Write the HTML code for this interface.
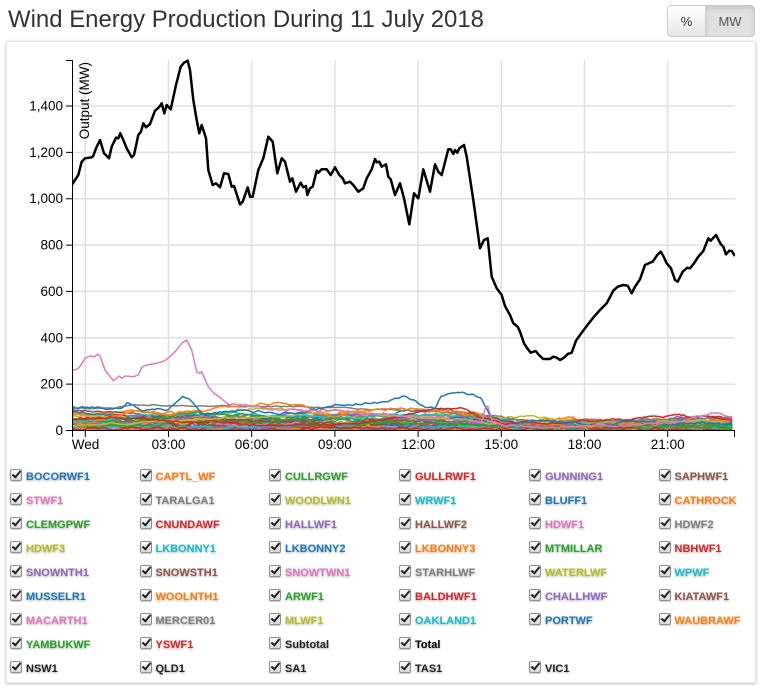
<!DOCTYPE html>
<html>
<head>
<meta charset="utf-8">
<style>
html,body{margin:0;padding:0;background:#fff;}
body{width:765px;height:686px;position:relative;overflow:hidden;font-family:"Liberation Sans",Arial,sans-serif;}
#panel{position:absolute;left:6px;top:41px;width:748px;height:640px;border:1px solid #e6e6e6;box-shadow:0 1px 3px rgba(0,0,0,0.25);background:#fff;}
.btn{position:absolute;top:5px;height:32px;line-height:32px;text-align:center;font-size:13px;color:#333;border:1px solid #ccc;box-sizing:border-box;}
#b1{left:667px;width:39px;border-radius:4px 0 0 4px;background:linear-gradient(#fff,#e6e6e6);}
#b2{left:705px;width:50px;border-radius:0 4px 4px 0;background:#e0e0e0;box-shadow:inset 0 3px 5px rgba(0,0,0,0.1);color:#555;}
svg{position:absolute;left:0;top:0;}
.it{position:absolute;height:13px;line-height:13px;font-size:11px;font-weight:bold;white-space:nowrap;}
.it span{position:absolute;left:16px;top:0;text-shadow:0 1px 2px rgba(0,0,0,0.35);}
.cb{position:absolute;left:0;top:-2px;width:10px;height:10px;border:1px solid #8f8f8f;border-radius:2px;background:linear-gradient(#fdfdfd,#d6d6d6);box-shadow:0 1px 1px rgba(0,0,0,0.2);}
.cb:after{content:"";position:absolute;left:3px;top:-1px;width:3px;height:7px;border:solid #222;border-width:0 2px 2px 0;transform:rotate(40deg);}
</style>
</head>
<body>
<div id="panel"></div>
<div class="btn" id="b1">%</div>
<div class="btn" id="b2">MW</div>

<svg width="765" height="686" viewBox="0 0 765 686" xmlns="http://www.w3.org/2000/svg">
<defs><clipPath id="clip"><rect x="72" y="55" width="663" height="376"/></clipPath></defs>
<text x="8" y="27" font-family="Liberation Sans, Arial, sans-serif" font-size="24" fill="#333" textLength="476" lengthAdjust="spacingAndGlyphs">Wind Energy Production During 11 July 2018</text>

<g stroke="#e0e0e0" stroke-width="1.5">
<line x1="85.3" y1="60" x2="85.3" y2="430.5"/>
<line x1="168.5" y1="60" x2="168.5" y2="430.5"/>
<line x1="251.7" y1="60" x2="251.7" y2="430.5"/>
<line x1="334.9" y1="60" x2="334.9" y2="430.5"/>
<line x1="418.1" y1="60" x2="418.1" y2="430.5"/>
<line x1="501.3" y1="60" x2="501.3" y2="430.5"/>
<line x1="584.5" y1="60" x2="584.5" y2="430.5"/>
<line x1="667.7" y1="60" x2="667.7" y2="430.5"/>
<line x1="72" y1="384.1" x2="735" y2="384.1"/>
<line x1="72" y1="337.8" x2="735" y2="337.8"/>
<line x1="72" y1="291.4" x2="735" y2="291.4"/>
<line x1="72" y1="245.1" x2="735" y2="245.1"/>
<line x1="72" y1="198.7" x2="735" y2="198.7"/>
<line x1="72" y1="152.4" x2="735" y2="152.4"/>
<line x1="72" y1="106.0" x2="735" y2="106.0"/>
</g>

<g id="lines" clip-path="url(#clip)" stroke-linejoin="round"></g>

<g clip-path="url(#clip)" fill="none" stroke-linejoin="round">
<polyline stroke="#e377c2" stroke-width="1.5" points="71.7,370.7 76.7,369.3 79.3,367.3 85,358.3 90,356 95,356.7 97.3,354.3 100,356 105,370 113.3,380.7 119.3,376 121.7,378.3 125,376 133.3,376.7 138.3,375 141.7,367.3 146.7,365 156.7,363.3 165,360.7 170,356.7 176,350.7 181.7,343.3 186.7,340 191.7,350 196.7,371.7 200,373.3 201.7,371.7 208.3,386.7 213.3,392.7 220,397.3 225,401.7 230,405 233.3,403.3"/>
<polyline stroke="#000" stroke-width="2.5" points="71.7,185 78.3,175 81.7,161.7 85,158.3 91.7,157.3 93.3,156 96,148.3 100,140 104,153.3 109,158.3 111.7,146.7 116,137.7 118.3,138.3 120.3,133.3 123.3,140 126.7,148.3 131.7,157.3 134,155 138.3,135 141,131.7 143.3,123.3 146,127.3 150,124 155,110.7 159,107.3 161.7,103.3 164.3,113.3 166.7,105 170.7,109.3 176,85 180.7,66.7 184,62.7 187.7,60.7 190,70 193.3,100 196.7,120 199.3,133.3 201.7,125 206,138.3 208.3,170 212.7,185 216,183.3 220,187.3 224,173.3 228.3,174 231.7,186.7 234,186 240,204.3 242.7,201.7 247.7,187.3 250,196.7 252.7,196.7 258.3,170 263.3,158.3 268.3,136.7 272.7,141.7 277.3,173.3 281.7,158.3 285,161.7 290,181.7 292.3,178.3 296,191.7 300.7,182.7 303.3,187.3 306,186 307.3,195 310,188.3 312.7,186.7 316.7,170.7 318.3,172.7 321.7,169.3 326.7,169.3 330.7,175 335,167.3 339.3,175 342.7,178.3 345,183.3 350,181.7 353.3,185 358.3,191.7 363.3,188.3 366.7,178.3 371.7,169.3 375,159 376.7,162.3 379.3,161.7 381.7,166.7 386,164.3 388.3,176.7 390.7,179.3 395,195 400,183.3 404,198.3 409.3,224.3 414,193.3 418.3,198.3 423.3,169.3 430,191.7 435,164.3 438.3,171.7 441.7,175 448.3,149.3 450.7,149.3 453.3,154 455,150 457.3,152.7 459.3,148.3 464,145 466.7,156.7 473.3,200 480,248.3 484,240 487.7,238.3 491.7,276.7 496.7,288.3 501.7,295 505,306 510,315 513.3,323.3 517.7,326.7 520,331.7 524,343.3 527.3,348.3 530.7,352.7 535.7,351 539,355 543.3,359 550,359 553.3,356.7 556.7,357.7 560,360 564,357.7 567.7,354 571.7,352.7 576,340.7 580,335 586.7,326 594,316.7 600,310 606.7,303.3 613.3,290.7 617.7,286.7 623.3,285 627.7,285.7 631.7,293.3 635,286.7 640,279.3 645,265 650,262.7 652.7,261.7 657.3,255 660.7,251.7 663.3,256 666.7,263.3 671,268.3 675,280 677.7,281.7 682.7,271.7 687.3,267.7 690,268.3 694,263.3 698.3,256.7 703.3,251 708.3,238.3 710.7,240.7 716,235 720.7,244 723.3,246.7 726,254.3 729.3,250.7 731.7,251 735,256"/>
</g>

<!-- axes -->
<g stroke="#000" stroke-width="1" fill="none">
<path d="M66,60.5H72.5V430.5H734.5V437"/>
<path d="M66,430.5H72 M66,384.1H72 M66,337.8H72 M66,291.4H72 M66,245.1H72 M66,198.7H72 M66,152.4H72 M66,106H72"/>
<path d="M72.5,430.5V437 M85.3,430.5V437 M168.5,430.5V437 M251.7,430.5V437 M334.9,430.5V437 M418.1,430.5V437 M501.3,430.5V437 M584.5,430.5V437 M667.7,430.5V437"/>
</g>
<g font-family="Liberation Sans, Arial, sans-serif" font-size="13.5" fill="#000" text-anchor="end">
<text x="63" y="435">0</text>
<text x="63" y="388.6">200</text>
<text x="63" y="342.3">400</text>
<text x="63" y="295.9">600</text>
<text x="63" y="249.6">800</text>
<text x="63" y="203.2">1,000</text>
<text x="63" y="156.9">1,200</text>
<text x="63" y="110.5">1,400</text>
</g>
<g font-family="Liberation Sans, Arial, sans-serif" font-size="13.5" fill="#000" text-anchor="middle">
<text x="85.5" y="449">Wed</text>
<text x="168.5" y="449">03:00</text>
<text x="251.7" y="449">06:00</text>
<text x="334.9" y="449">09:00</text>
<text x="418.1" y="449">12:00</text>
<text x="501.3" y="449">15:00</text>
<text x="584.5" y="449">18:00</text>
<text x="667.7" y="449">21:00</text>
</g>
<text transform="translate(89,62) rotate(-90)" text-anchor="end" font-family="Liberation Sans, Arial, sans-serif" font-size="13.5" fill="#000">Output (MW)</text>
</svg>

<!-- legend -->
<div class="it" style="left:10px;top:470.5px;color:#1f77b4"><i class="cb"></i><span>BOCORWF1</span></div>
<div class="it" style="left:139.5px;top:470.5px;color:#ff7f0e"><i class="cb"></i><span>CAPTL_WF</span></div>
<div class="it" style="left:269px;top:470.5px;color:#2ca02c"><i class="cb"></i><span>CULLRGWF</span></div>
<div class="it" style="left:399px;top:470.5px;color:#d62728"><i class="cb"></i><span>GULLRWF1</span></div>
<div class="it" style="left:529px;top:470.5px;color:#9467bd"><i class="cb"></i><span>GUNNING1</span></div>
<div class="it" style="left:658.5px;top:470.5px;color:#8c564b"><i class="cb"></i><span>SAPHWF1</span></div>

<div class="it" style="left:10px;top:494.5px;color:#e377c2"><i class="cb"></i><span>STWF1</span></div>
<div class="it" style="left:139.5px;top:494.5px;color:#7f7f7f"><i class="cb"></i><span>TARALGA1</span></div>
<div class="it" style="left:269px;top:494.5px;color:#bcbd22"><i class="cb"></i><span>WOODLWN1</span></div>
<div class="it" style="left:399px;top:494.5px;color:#17becf"><i class="cb"></i><span>WRWF1</span></div>
<div class="it" style="left:529px;top:494.5px;color:#1f77b4"><i class="cb"></i><span>BLUFF1</span></div>
<div class="it" style="left:658.5px;top:494.5px;color:#ff7f0e"><i class="cb"></i><span>CATHROCK</span></div>

<div class="it" style="left:10px;top:518.5px;color:#2ca02c"><i class="cb"></i><span>CLEMGPWF</span></div>
<div class="it" style="left:139.5px;top:518.5px;color:#d62728"><i class="cb"></i><span>CNUNDAWF</span></div>
<div class="it" style="left:269px;top:518.5px;color:#9467bd"><i class="cb"></i><span>HALLWF1</span></div>
<div class="it" style="left:399px;top:518.5px;color:#8c564b"><i class="cb"></i><span>HALLWF2</span></div>
<div class="it" style="left:529px;top:518.5px;color:#e377c2"><i class="cb"></i><span>HDWF1</span></div>
<div class="it" style="left:658.5px;top:518.5px;color:#7f7f7f"><i class="cb"></i><span>HDWF2</span></div>

<div class="it" style="left:10px;top:542.5px;color:#bcbd22"><i class="cb"></i><span>HDWF3</span></div>
<div class="it" style="left:139.5px;top:542.5px;color:#17becf"><i class="cb"></i><span>LKBONNY1</span></div>
<div class="it" style="left:269px;top:542.5px;color:#1f77b4"><i class="cb"></i><span>LKBONNY2</span></div>
<div class="it" style="left:399px;top:542.5px;color:#ff7f0e"><i class="cb"></i><span>LKBONNY3</span></div>
<div class="it" style="left:529px;top:542.5px;color:#2ca02c"><i class="cb"></i><span>MTMILLAR</span></div>
<div class="it" style="left:658.5px;top:542.5px;color:#d62728"><i class="cb"></i><span>NBHWF1</span></div>

<div class="it" style="left:10px;top:566.5px;color:#9467bd"><i class="cb"></i><span>SNOWNTH1</span></div>
<div class="it" style="left:139.5px;top:566.5px;color:#8c564b"><i class="cb"></i><span>SNOWSTH1</span></div>
<div class="it" style="left:269px;top:566.5px;color:#e377c2"><i class="cb"></i><span>SNOWTWN1</span></div>
<div class="it" style="left:399px;top:566.5px;color:#7f7f7f"><i class="cb"></i><span>STARHLWF</span></div>
<div class="it" style="left:529px;top:566.5px;color:#bcbd22"><i class="cb"></i><span>WATERLWF</span></div>
<div class="it" style="left:658.5px;top:566.5px;color:#17becf"><i class="cb"></i><span>WPWF</span></div>

<div class="it" style="left:10px;top:590.5px;color:#1f77b4"><i class="cb"></i><span>MUSSELR1</span></div>
<div class="it" style="left:139.5px;top:590.5px;color:#ff7f0e"><i class="cb"></i><span>WOOLNTH1</span></div>
<div class="it" style="left:269px;top:590.5px;color:#2ca02c"><i class="cb"></i><span>ARWF1</span></div>
<div class="it" style="left:399px;top:590.5px;color:#d62728"><i class="cb"></i><span>BALDHWF1</span></div>
<div class="it" style="left:529px;top:590.5px;color:#9467bd"><i class="cb"></i><span>CHALLHWF</span></div>
<div class="it" style="left:658.5px;top:590.5px;color:#8c564b"><i class="cb"></i><span>KIATAWF1</span></div>

<div class="it" style="left:10px;top:614.5px;color:#e377c2"><i class="cb"></i><span>MACARTH1</span></div>
<div class="it" style="left:139.5px;top:614.5px;color:#7f7f7f"><i class="cb"></i><span>MERCER01</span></div>
<div class="it" style="left:269px;top:614.5px;color:#bcbd22"><i class="cb"></i><span>MLWF1</span></div>
<div class="it" style="left:399px;top:614.5px;color:#17becf"><i class="cb"></i><span>OAKLAND1</span></div>
<div class="it" style="left:529px;top:614.5px;color:#1f77b4"><i class="cb"></i><span>PORTWF</span></div>
<div class="it" style="left:658.5px;top:614.5px;color:#ff7f0e"><i class="cb"></i><span>WAUBRAWF</span></div>

<div class="it" style="left:10px;top:638.5px;color:#2ca02c"><i class="cb"></i><span>YAMBUKWF</span></div>
<div class="it" style="left:139.5px;top:638.5px;color:#d62728"><i class="cb"></i><span>YSWF1</span></div>
<div class="it" style="left:269px;top:638.5px;color:#222"><i class="cb"></i><span>Subtotal</span></div>
<div class="it" style="left:399px;top:638.5px;color:#000"><i class="cb"></i><span>Total</span></div>

<div class="it" style="left:10px;top:662.5px;color:#222"><i class="cb"></i><span>NSW1</span></div>
<div class="it" style="left:139.5px;top:662.5px;color:#222"><i class="cb"></i><span>QLD1</span></div>
<div class="it" style="left:269px;top:662.5px;color:#222"><i class="cb"></i><span>SA1</span></div>
<div class="it" style="left:399px;top:662.5px;color:#222"><i class="cb"></i><span>TAS1</span></div>
<div class="it" style="left:529px;top:662.5px;color:#222"><i class="cb"></i><span>VIC1</span></div>

<script>
(function(){
var NS="http://www.w3.org/2000/svg";
var g=document.getElementById('lines');
var pal=['#1f77b4','#ff7f0e','#2ca02c','#d62728','#9467bd','#8c564b','#e377c2','#7f7f7f','#bcbd22','#17becf'];
var seed=12345;
function r(){seed=(seed*1664525+1013904223)>>>0;return seed/4294967296;}
function X(h){return 85.3+h*27.73;}
function Y(v){return 430.5-v*0.2318;}
function interp(a,h){for(var i=0;i<a.length-1;i++){if(h<=a[i+1][0]){var t=(h-a[i][0])/(a[i+1][0]-a[i][0]);return a[i][1]+t*(a[i+1][1]-a[i][1]);}}return a[a.length-1][1];}
function add(a,noise,col,h0,w){
  if(h0==null)h0=-0.5;
  var n=0,p=[];
  for(var h=h0;h<=23.41;h+=1/12){
    n=n*0.8+(r()-0.5)*noise;
    var v=Math.max(0,interp(a,h)+n);
    p.push(X(h).toFixed(1)+','+Y(v).toFixed(1));
  }
  var e=document.createElementNS(NS,'polyline');
  e.setAttribute('points',p.join(' '));
  e.setAttribute('stroke',col);
  e.setAttribute('stroke-width',w||1.5);
  e.setAttribute('fill','none');
  g.appendChild(e);
}
for(var i=0;i<34;i++){
  var b=4+Math.pow(r(),1.4)*65;
  var a=[];
  for(var h=-0.5;h<=24;h+=2){
    var f=h>14.5?0.55:1;
    a.push([h,b*f*(0.4+1.2*r())]);
  }
  add(a,10,pal[i%10]);
}
/* specific visible series */
add([[-0.5,85],[1,80],[3,60],[6,40],[9,50],[12,40],[15,20],[23.4,60]],8,'#8c564b');
add([[-0.5,25],[8,70],[9,75],[12,40],[16,20],[21,50],[21.5,65],[22,50],[23.4,45]],8,'#9467bd');
add([[-0.5,40],[3,70],[5,75],[7,60],[10,55],[12,70],[14,55],[16,25],[18,40],[20,40],[23.4,35]],8,'#17becf');
add([[-0.5,30],[2,40],[3,60],[3.5,80],[4.5,70],[6,70],[7,50],[10,40],[12,30],[15,20],[23.4,15]],8,'#2ca02c');
add([[-0.5,20],[8,70],[9,90],[12,60],[14.8,30],[15.2,60],[16,65],[17,45],[18,30],[20,45],[23.4,40]],6,'#bcbd22');
add([[-0.5,95],[3,110],[6,105],[9,100],[11,90],[13,80],[14.5,50],[16,40],[20,45],[23.4,55]],5,'#7f7f7f');
add([[-0.5,40],[0,30],[1,60],[2,80],[3,75],[4,90],[5,100],[6,110],[7,120],[7.5,115],[8,95],[9,60],[10,80],[11,95],[12,90],[13,85],[14,75],[15,30],[18,20],[21,30],[23.4,40]],8,'#ff7f0e');
add([[-0.5,50],[1,60],[3,40],[6,30],[10,30],[12,80],[13,95],[13.5,105],[14.2,60],[15,30],[18,40],[20,50],[21.2,65],[22,55],[23.4,45]],8,'#d62728');
add([[-0.5,110],[0.5,100],[1.2,95],[1.5,120],[2,90],[3,90],[3.5,150],[3.9,120],[4.2,80],[6,85],[7,80],[8,90],[9,110],[9.5,120],[10.5,125],[11.5,150],[12,120],[12.3,100],[12.6,90],[12.8,140],[13.3,160],[14,150],[14.3,130],[14.6,60],[15,40],[18,30],[23.4,40]],10,'#1f77b4');
add([[5.34,117],[6.3,100],[7,90],[8,85],[9,95],[10,80],[12,60],[13,50],[14,45],[14.3,40],[14.47,124],[14.7,30],[16,15],[20,25],[21.5,40],[22,60],[22.8,75],[23.4,45]],8,'#e377c2',5.34);
})();
</script>
</body>
</html>
